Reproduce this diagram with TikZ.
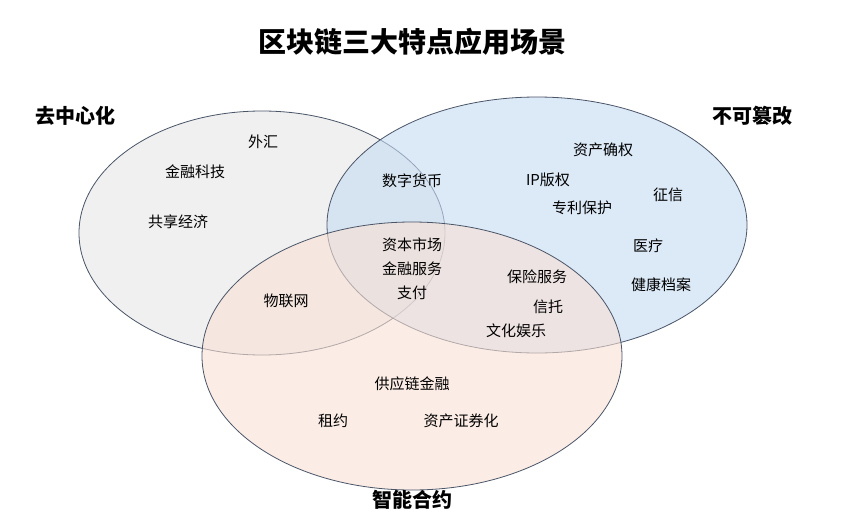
\documentclass[tikz,border=0pt]{standalone}
\usepackage{fontspec}
\setmainfont{Noto Sans CJK SC}
\definecolor{setline}{HTML}{4A5568}
\definecolor{grayset}{HTML}{E6E6E6}
\definecolor{blueset}{HTML}{C6DBF2}
\definecolor{peachset}{HTML}{F9E0D4}
\begin{document}
\begin{tikzpicture}
[x=1pt,y=-1pt,
set/.style={draw=setline, thick, fill opacity=0.6},
lbl/.style={font=\fontsize{15}{17}\selectfont, inner sep=1pt},
head/.style={font=\fontsize{20}{23}\selectfont\bfseries, inner sep=1pt}]
\useasboundingbox (0,0) rectangle (865,514);
\fill[white] (0,0) rectangle (865,514);

\filldraw[set,fill=grayset] (262,233) ellipse [x radius=183, y radius=122];
\filldraw[set,fill=blueset] (537,225) ellipse [x radius=210, y radius=128];
\filldraw[set,fill=peachset] (412,356) ellipse [x radius=210, y radius=134];

\node[font=\fontsize{28}{32}\selectfont\bfseries] (title) at (412,42) {区块链三大特点应用场景};
\node[head] (decentral) at (75,116) {去中心化};
\node[head] (immutable) at (752,116) {不可篡改};
\node[head] (contract) at (412,500) {智能合约};

\node[lbl] (forex) at (263,142) {外汇};
\node[lbl] (fintech) at (195,172) {金融科技};
\node[lbl] (sharing) at (178,222) {共享经济};
\node[lbl] (currency) at (412,181) {数字货币};
\node[lbl] (rights) at (603,150) {资产确权};
\node[lbl] (ip) at (548,180) {IP版权};
\node[lbl] (credit) at (668,195) {征信};
\node[lbl] (patent) at (582,208) {专利保护};
\node[lbl] (medical) at (648,246) {医疗};
\node[lbl] (health) at (661,285) {健康档案};
\node[lbl] (capital) at (412,245) {资本市场};
\node[lbl] (finserv) at (412,269) {金融服务};
\node[lbl] (payment) at (412,293) {支付};
\node[lbl] (insurance) at (537,277) {保险服务};
\node[lbl] (trust) at (548,307) {信托};
\node[lbl] (culture) at (516,331) {文化娱乐};
\node[lbl] (iot) at (286,301) {物联网};
\node[lbl] (supply) at (412,384) {供应链金融};
\node[lbl] (lease) at (333,421) {租约};
\node[lbl] (abs) at (461,421) {资产证券化};
\end{tikzpicture}
\end{document}
